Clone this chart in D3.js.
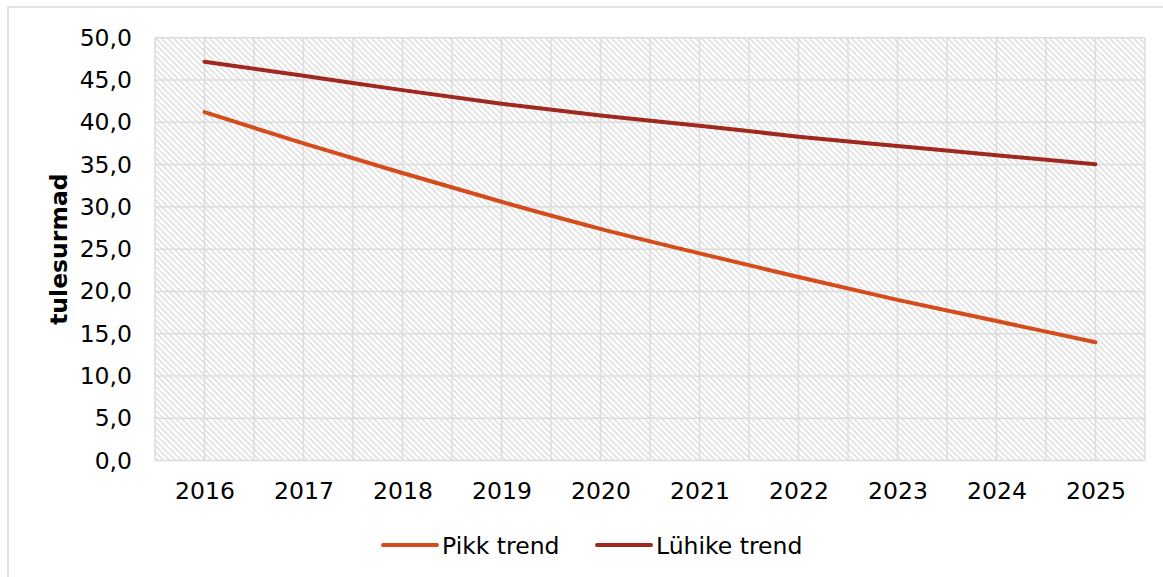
<!DOCTYPE html>
<html>
<head>
<meta charset="utf-8">
<script src="https://cdn.jsdelivr.net/npm/d3@7"></script>
<style>
  body { margin: 0; background: #fff; }
  svg { display: block; font-family: "DejaVu Sans", Verdana, sans-serif; }
</style>
</head>
<body>
<div id="chart"></div>
<script>
// values
var years = ["2016", "2017", "2018", "2019", "2020", "2021", "2022", "2023", "2024", "2025"];
var pikkTrend = [41.2, 37.5, 34.0, 30.6, 27.4, 24.5, 21.7, 19.0, 16.5, 14.0];
var luhikeTrend = [47.15, 45.5, 43.8, 42.2, 40.8, 39.6, 38.3, 37.2, 36.1, 35.05];
var yTicks = [0, 5, 10, 15, 20, 25, 30, 35, 40, 45, 50];
var seriesNames = ["Pikk trend", "Lühike trend"];
var colors = ["#d44c1c", "#a0291f"];

var width = 1163, height = 577;
var margin = {left: 155, top: 37.7, right: 18, bottom: 116.4};
var plotW = width - margin.left - margin.right;
var plotH = height - margin.top - margin.bottom;
var fontSize = "23.5px";

var svg = d3.select("#chart").append("svg")
  .attr("width", width)
  .attr("height", height);

// chart frame
svg.append("rect")
  .attr("x", 8).attr("y", 7)
  .attr("width", 1170).attr("height", 590)
  .attr("fill", "#fff")
  .attr("stroke", "#d9d9d9")
  .attr("stroke-width", 1.5);

// hatch fill of the plot area
var defs = svg.append("defs");
var pat = defs.append("pattern")
  .attr("id", "hatch")
  .attr("patternUnits", "userSpaceOnUse")
  .attr("width", 6).attr("height", 6);
pat.append("rect").attr("width", 6).attr("height", 6).attr("fill", "#fff");
pat.append("path")
  .attr("d", "M0,0L6,6M-3,3L3,9M3,-3L9,3")
  .attr("stroke", "#dadada")
  .attr("stroke-width", 1.4);

var g = svg.append("g")
  .attr("transform", "translate(" + margin.left + "," + margin.top + ")");

var x = d3.scalePoint().domain(years).range([0, plotW]).padding(0.5);
var xBand = d3.scaleBand().domain(years).range([0, plotW]);
var y = d3.scaleLinear().domain([0, 50]).range([plotH, 0]);

g.append("rect")
  .attr("width", plotW).attr("height", plotH)
  .attr("fill", "url(#hatch)");

// grid: horizontal at every tick, vertical at category centres and edges
g.append("g").selectAll("line")
  .data(yTicks)
  .join("line")
  .attr("x1", 0).attr("x2", plotW)
  .attr("y1", function(d) { return y(d); })
  .attr("y2", function(d) { return y(d); })
  .attr("stroke", "#dcdcdc")
  .attr("stroke-width", 1.5);

var vLines = [];
years.forEach(function(yr) {
  vLines.push(xBand(yr));
  vLines.push(x(yr));
});
vLines.push(plotW);
g.append("g").selectAll("line")
  .data(vLines)
  .join("line")
  .attr("x1", function(d) { return d; })
  .attr("x2", function(d) { return d; })
  .attr("y1", 0).attr("y2", plotH)
  .attr("stroke", "#dcdcdc")
  .attr("stroke-width", 1.5);

// axes
var yAxis = g.append("g")
  .call(d3.axisLeft(y).tickValues(yTicks).tickSize(0).tickPadding(23)
    .tickFormat(function(d) { return d3.format(".1f")(d).replace(".", ","); }));
yAxis.select(".domain").remove();
yAxis.selectAll("text")
  .attr("font-size", fontSize)
  .attr("fill", "#000")
  .attr("font-family", "DejaVu Sans, Verdana, sans-serif");

var xAxis = g.append("g")
  .attr("transform", "translate(0," + plotH + ")")
  .call(d3.axisBottom(x).tickSize(0).tickPadding(22));
xAxis.select(".domain").remove();
xAxis.selectAll("text")
  .attr("font-size", fontSize)
  .attr("fill", "#000")
  .attr("font-family", "DejaVu Sans, Verdana, sans-serif");

// y axis title
svg.append("text")
  .attr("transform", "translate(67," + (margin.top + plotH / 2) + ") rotate(-90)")
  .attr("text-anchor", "middle")
  .attr("font-size", fontSize)
  .attr("font-weight", "bold")
  .text("tulesurmad");

// lines
var line = d3.line()
  .x(function(d, i) { return x(years[i]); })
  .y(function(d) { return y(d); })
  .curve(d3.curveMonotoneX);

[pikkTrend, luhikeTrend].forEach(function(s, k) {
  g.append("path")
    .datum(s)
    .attr("d", line)
    .attr("fill", "none")
    .attr("stroke", colors[k])
    .attr("stroke-width", 4)
    .attr("stroke-linecap", "round")
    .attr("stroke-linejoin", "round");
});

// legend
var legendX = [383, 597];
var legend = svg.append("g").selectAll("g")
  .data(seriesNames)
  .join("g")
  .attr("transform", function(d, i) { return "translate(" + legendX[i] + ",545)"; });
legend.append("line")
  .attr("x1", 0).attr("x2", 54)
  .attr("stroke", function(d, i) { return colors[i]; })
  .attr("stroke-width", 4)
  .attr("stroke-linecap", "round");
legend.append("text")
  .attr("x", 59).attr("y", 8.5)
  .attr("font-size", fontSize)
  .attr("fill", "#000")
  .text(function(d) { return d; });
</script>
</body>
</html>
